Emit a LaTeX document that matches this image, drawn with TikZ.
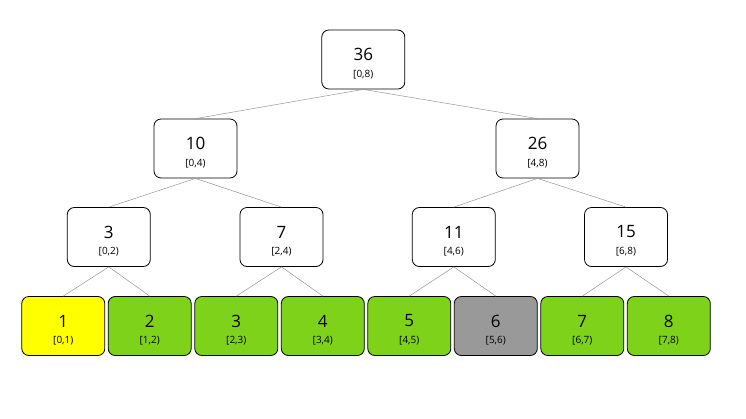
\documentclass[tikz,border=0pt]{standalone}
\usepackage{fontspec}
\setmainfont{Open Sans}
\definecolor{leafgreen}{RGB}{126,211,26}
\definecolor{leafyellow}{RGB}{255,255,0}
\definecolor{leafgray}{RGB}{153,153,153}
\definecolor{edgegray}{RGB}{150,150,150}
\tikzset{
  tnode/.style={draw=black, line width=0.8pt, rounded corners=7pt, minimum width=83pt, minimum height=59pt, inner sep=0pt, fill=white},
  lbl/.style={font=\fontsize{10}{11}\selectfont},
  num/.style={font=\fontsize{17}{19}\selectfont},
  edge/.style={draw=edgegray, line width=0.5pt}
}
\newcommand{\tn}[5]{%
  \node[tnode,#5] (#1) at (#2) {};
  \node[num] at ([yshift=5pt]#1.center) {#3};
  \node[lbl] at ([yshift=-15pt]#1.center) {#4};
}
\begin{document}
\begin{tikzpicture}[x=1pt,y=-1pt]
\useasboundingbox (0,0) rectangle (746,418);
\tn{n36}{363.3,59.5}{36}{[0,8)}{}
\tn{n10}{195.5,148.5}{10}{[0,4)}{}
\tn{n26}{537.5,148.5}{26}{[4,8)}{}
\tn{n3}{108.8,237}{3}{[0,2)}{}
\tn{n7}{281.5,237}{7}{[2,4)}{}
\tn{n11}{453.8,237}{11}{[4,6)}{}
\tn{n15}{626,237}{15}{[6,8)}{}
\tn{l1}{63.3,326}{1}{[0,1)}{fill=leafyellow}
\tn{l2}{149.7,326}{2}{[1,2)}{fill=leafgreen}
\tn{l3}{236.3,326}{3}{[2,3)}{fill=leafgreen}
\tn{l4}{322.8,326}{4}{[3,4)}{fill=leafgreen}
\tn{l5}{409.3,326}{5}{[4,5)}{fill=leafgreen}
\tn{l6}{495.8,326}{6}{[5,6)}{fill=leafgray}
\tn{l7}{582.3,326}{7}{[6,7)}{fill=leafgreen}
\tn{l8}{668.8,326}{8}{[7,8)}{fill=leafgreen}
\path[edge] (n36.south) -- (n10.north);
\path[edge] (n36.south) -- (n26.north);
\path[edge] (n10.south) -- (n3.north);
\path[edge] (n10.south) -- (n7.north);
\path[edge] (n26.south) -- (n11.north);
\path[edge] (n26.south) -- (n15.north);
\path[edge] (n3.south) -- (l1.north);
\path[edge] (n3.south) -- (l2.north);
\path[edge] (n7.south) -- (l3.north);
\path[edge] (n7.south) -- (l4.north);
\path[edge] (n11.south) -- (l5.north);
\path[edge] (n11.south) -- (l6.north);
\path[edge] (n15.south) -- (l7.north);
\path[edge] (n15.south) -- (l8.north);
\end{tikzpicture}
\end{document}
